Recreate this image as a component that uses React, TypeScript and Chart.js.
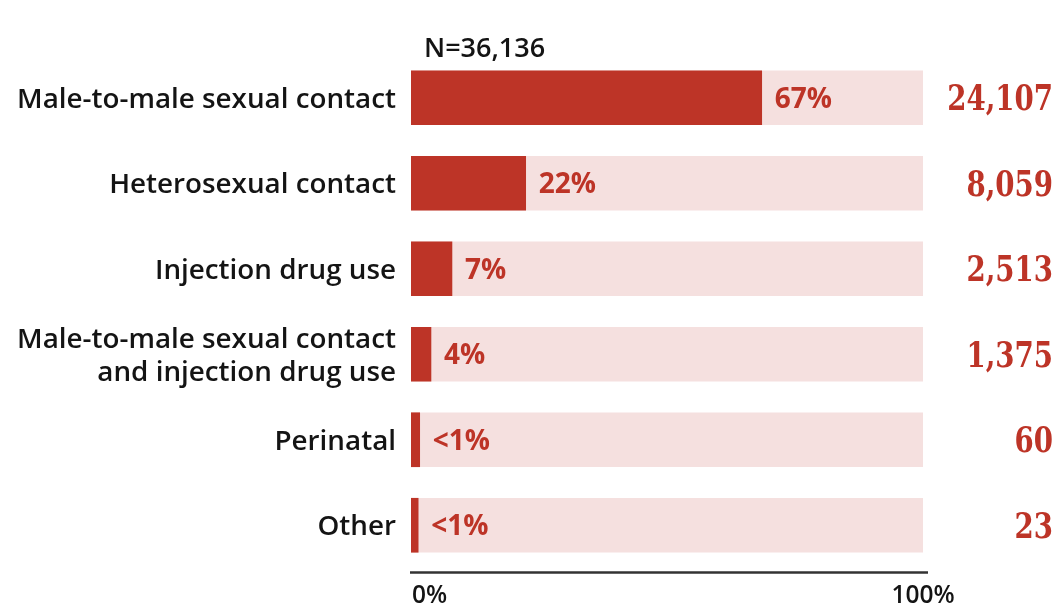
import React, { useEffect, useRef } from 'react';
import { Chart, registerables } from 'chart.js';

Chart.register(...registerables);

const categories: string[][] = [
  ['Male-to-male sexual contact'],
  ['Heterosexual contact'],
  ['Injection drug use'],
  ['Male-to-male sexual contact', 'and injection drug use'],
  ['Perinatal'],
  ['Other'],
];
const shareValues = [68.5, 22.4, 8.0, 3.9, 1.7, 1.4];
const trackValues = [100, 100, 100, 100, 100, 100];
const shareLabels = ['67%', '22%', '7%', '4%', '<1%', '<1%'];
const caseCounts = ['24,107', '8,059', '2,513', '1,375', '60', '23'];
const totalLabel = 'N=36,136';
const axisTicks = [0, 100];
const axisTickLabels = ['0%', '100%'];

const RED = '#BD3427';
const PINK = '#F5E0DF';
const INK = '#141414';
const SANS = '"Open Sans", "Noto Sans", sans-serif';

const overlayPlugin = {
  id: 'overlay',
  afterDatasetsDraw(chart: any) {
    const { ctx, chartArea, scales } = chart;
    const x = scales.x;
    const y = scales.y;
    const meta = chart.getDatasetMeta(0);
    ctx.save();
    // category labels
    ctx.fillStyle = INK;
    ctx.font = `600 27.8px ${SANS}`;
    ctx.textAlign = 'right';
    ctx.textBaseline = 'alphabetic';
    const labelRight = x.getPixelForValue(0) - 15;
    (chart.data.labels as string[][]).forEach((lines, i) => {
      const cy = y.getPixelForValue(i);
      const lh = 33;
      const first = cy - ((lines.length - 1) * lh) / 2;
      lines.forEach((ln, j) => {
        ctx.fillText(ln, labelRight, first + j * lh + 10);
      });
    });
    // percentage labels
    ctx.fillStyle = RED;
    ctx.font = `700 28px ${SANS}`;
    ctx.textAlign = 'left';
    meta.data.forEach((bar: any, i: number) => {
      ctx.fillText(shareLabels[i], bar.x + 13, bar.y + 10);
    });
    // case counts (condensed slab serif)
    ctx.font = 'bold 35px "DejaVu Serif", serif';
    caseCounts.forEach((c, i) => {
      const cy = y.getPixelForValue(i);
      ctx.save();
      ctx.translate(1053, cy + 12.5);
      ctx.scale(0.79, 1);
      ctx.textAlign = 'right';
      ctx.fillText(c, 0, 0);
      ctx.restore();
    });
    // N label
    ctx.fillStyle = INK;
    ctx.font = `600 27px ${SANS}`;
    ctx.textAlign = 'left';
    ctx.fillText(totalLabel, x.getPixelForValue(0) + 13, chartArea.top + 1.5);
    // axis line
    ctx.strokeStyle = '#333333';
    ctx.lineWidth = 2.3;
    ctx.beginPath();
    ctx.moveTo(x.getPixelForValue(0) - 1, chartArea.bottom + 4.5);
    ctx.lineTo(x.getPixelForValue(100) + 5, chartArea.bottom + 4.5);
    ctx.stroke();
    // axis tick labels
    ctx.font = `600 24.5px ${SANS}`;
    axisTicks.forEach((v, i) => {
      const px = x.getPixelForValue(v);
      ctx.textAlign = i === 0 ? 'left' : 'center';
      ctx.fillText(axisTickLabels[i], i === 0 ? px + 1 : px, chartArea.bottom + 35);
    });
    ctx.restore();
  },
};

export default function App() {
  const canvasRef = useRef<HTMLCanvasElement | null>(null);

  useEffect(() => {
    if (!canvasRef.current) return;
    const chart = new Chart(canvasRef.current, {
      type: 'bar',
      data: {
        labels: categories,
        datasets: [
          {
            label: 'Share',
            data: shareValues,
            backgroundColor: RED,
            borderWidth: 0,
            barThickness: 54,
            grouped: false,
            order: 0,
          },
          {
            label: 'Track',
            data: trackValues,
            backgroundColor: PINK,
            borderWidth: 0,
            barThickness: 54,
            grouped: false,
            order: 1,
          },
        ],
      },
      options: {
        indexAxis: 'y',
        animation: false,
        responsive: true,
        maintainAspectRatio: false,
        layout: { padding: { top: 55, bottom: 40, left: 0, right: 136 } },
        plugins: {
          legend: { display: false },
          tooltip: { enabled: false },
        },
        scales: {
          x: {
            display: false,
            min: 0,
            max: 100,
          },
          y: {
            type: 'category',
            grid: { display: false, drawTicks: false },
            border: { display: false },
            ticks: { display: false },
            afterFit: (scale: any) => {
              scale.width = 411;
            },
          },
        },
      },
      plugins: [overlayPlugin],
    } as any);
    return () => chart.destroy();
  }, []);

  return (
    <div style={{ position: 'fixed', left: 0, top: 0, width: 1059, height: 608, background: '#fff' }}>
      <canvas ref={canvasRef} />
    </div>
  );
}
